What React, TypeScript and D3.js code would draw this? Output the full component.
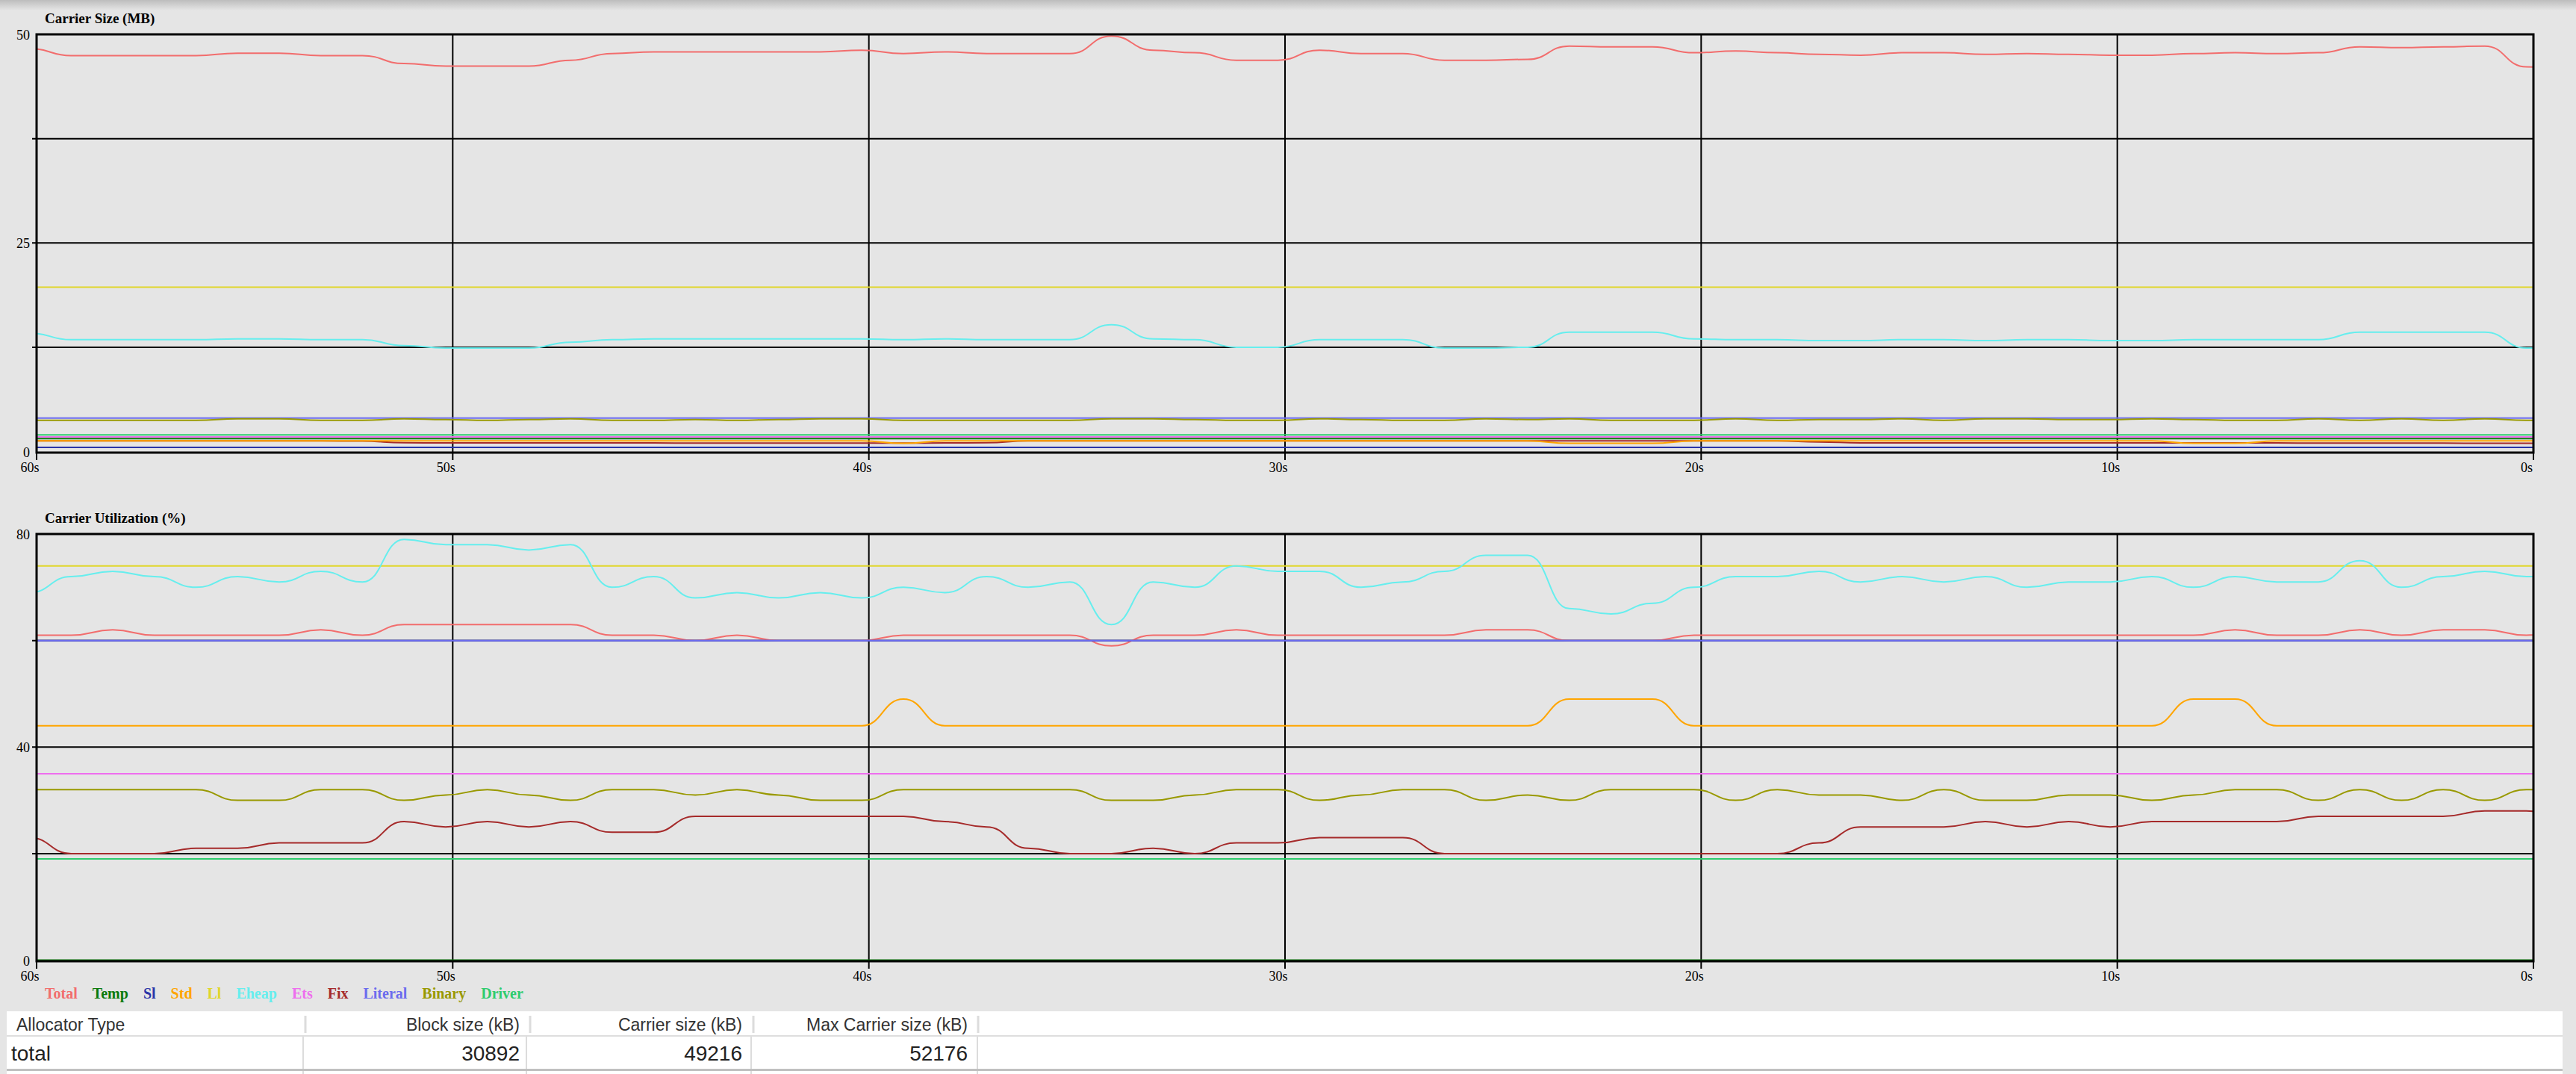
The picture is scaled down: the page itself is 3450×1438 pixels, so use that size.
import React from 'react';
import * as d3 from 'd3';

// ---------- DATA ----------
const seriesNames = ['Total', 'Temp', 'Sl', 'Std', 'Ll', 'Eheap', 'Ets', 'Fix', 'Literal', 'Binary', 'Driver'];
const seriesColors = ['#f26d6d', '#0a7a0a', '#2a35a8', '#ffa500', '#e0d62a', '#66eeee', '#ee6eee', '#a52a2a', '#6b6bee', '#999900', '#2ecc6e'];

// sample times (seconds ago), one per second
const sampleSecondsAgo = [
  60.17, 59.17, 58.17, 57.17, 56.17, 55.17, 54.17, 53.17, 52.17, 51.17,
  50.17, 49.17, 48.17, 47.17, 46.17, 45.17, 44.17, 43.17, 42.17, 41.17,
  40.17, 39.17, 38.17, 37.17, 36.17, 35.17, 34.17, 33.17, 32.17, 31.17,
  30.17, 29.17, 28.17, 27.17, 26.17, 25.17, 24.17, 23.17, 22.17, 21.17,
  20.17, 19.17, 18.17, 17.17, 16.17, 15.17, 14.17, 13.17, 12.17, 11.17,
  10.17, 9.17, 8.17, 7.17, 6.17, 5.17, 4.17, 3.17, 2.17, 1.17,
  0.17, -0.83,
];
const timeTicks = [60, 50, 40, 30, 20, 10, 0];
const timeTickLabels = ['60s', '50s', '40s', '30s', '20s', '10s', '0s'];

// ---- Carrier Size (MB) ----
const sizeTotal = [
  48.3, 47.45, 47.45, 47.45, 47.45, 47.75, 47.75, 47.45, 47.45, 46.5,
  46.2, 46.2, 46.2, 46.9, 47.7, 47.9, 47.9, 47.9, 47.9, 47.9,
  48.1, 47.7, 47.9, 47.7, 47.7, 47.7, 49.8, 48.1, 47.8, 46.9,
  46.9, 48.1, 47.7, 47.7, 46.9, 46.9, 47.0, 48.6, 48.5, 48.5,
  47.8, 48.0, 47.8, 47.6, 47.5, 47.8, 47.8, 47.6, 47.7, 47.6,
  47.5, 47.5, 47.7, 47.8, 47.7, 47.8, 48.5, 48.4, 48.5, 48.6,
  46.1, 45.8,
];
const sizeTemp = [
  1.55, 1.55, 1.55, 1.55, 1.55, 1.55, 1.55, 1.55, 1.55, 1.55,
  1.55, 1.55, 1.55, 1.55, 1.55, 1.55, 1.55, 1.55, 1.55, 1.55,
  1.55, 1.55, 1.55, 1.55, 1.55, 1.55, 1.55, 1.55, 1.55, 1.55,
  1.55, 1.55, 1.55, 1.55, 1.55, 1.55, 1.55, 1.55, 1.55, 1.55,
  1.55, 1.55, 1.55, 1.55, 1.55, 1.55, 1.55, 1.55, 1.55, 1.55,
  1.55, 1.55, 1.55, 1.55, 1.55, 1.55, 1.55, 1.55, 1.55, 1.55,
  1.55, 1.55,
];
const sizeSl = [
  0.5, 0.5, 0.5, 0.5, 0.5, 0.5, 0.5, 0.5, 0.5, 0.5,
  0.5, 0.5, 0.5, 0.5, 0.5, 0.5, 0.5, 0.5, 0.5, 0.5,
  0.5, 0.5, 0.5, 0.5, 0.5, 0.5, 0.5, 0.5, 0.5, 0.5,
  0.5, 0.5, 0.5, 0.5, 0.5, 0.5, 0.5, 0.5, 0.5, 0.5,
  0.5, 0.5, 0.5, 0.5, 0.5, 0.5, 0.5, 0.5, 0.5, 0.5,
  0.5, 0.5, 0.5, 0.5, 0.5, 0.5, 0.5, 0.5, 0.5, 0.5,
  0.5, 0.5,
];
const sizeStd = [
  1.27, 1.27, 1.27, 1.27, 1.27, 1.27, 1.27, 1.27, 1.27, 1.27,
  1.27, 1.27, 1.27, 1.27, 1.27, 1.27, 1.27, 1.27, 1.27, 1.27,
  1.27, 0.98, 1.27, 1.27, 1.27, 1.27, 1.27, 1.27, 1.27, 1.27,
  1.27, 1.27, 1.27, 1.27, 1.27, 1.27, 1.27, 0.98, 0.98, 0.98,
  1.27, 1.27, 1.27, 1.27, 1.27, 1.27, 1.27, 1.27, 1.27, 1.27,
  1.27, 1.27, 0.98, 0.98, 1.27, 1.27, 1.27, 1.27, 1.27, 1.27,
  1.27, 1.27,
];
const sizeLl = [
  19.7, 19.7, 19.7, 19.7, 19.7, 19.7, 19.7, 19.7, 19.7, 19.7,
  19.7, 19.7, 19.7, 19.7, 19.7, 19.7, 19.7, 19.7, 19.7, 19.7,
  19.7, 19.7, 19.7, 19.7, 19.7, 19.7, 19.7, 19.7, 19.7, 19.7,
  19.7, 19.7, 19.7, 19.7, 19.7, 19.7, 19.7, 19.7, 19.7, 19.7,
  19.7, 19.7, 19.7, 19.7, 19.7, 19.7, 19.7, 19.7, 19.7, 19.7,
  19.7, 19.7, 19.7, 19.7, 19.7, 19.7, 19.7, 19.7, 19.7, 19.7,
  19.7, 19.7,
];
const sizeEheap = [
  14.2, 13.4, 13.4, 13.4, 13.4, 13.5, 13.5, 13.4, 13.4, 12.7,
  12.4, 12.4, 12.4, 13.1, 13.4, 13.5, 13.5, 13.5, 13.5, 13.5,
  13.5, 13.4, 13.5, 13.4, 13.4, 13.4, 15.2, 13.5, 13.4, 12.5,
  12.5, 13.4, 13.4, 13.4, 12.4, 12.4, 12.5, 14.3, 14.3, 14.3,
  13.5, 13.4, 13.4, 13.3, 13.3, 13.4, 13.4, 13.3, 13.4, 13.4,
  13.3, 13.3, 13.4, 13.4, 13.4, 13.4, 14.3, 14.3, 14.3, 14.3,
  12.4, 12.2,
];
const sizeEts = [
  1.75, 1.75, 1.75, 1.75, 1.75, 1.75, 1.75, 1.75, 1.75, 1.75,
  1.75, 1.75, 1.75, 1.75, 1.75, 1.75, 1.75, 1.75, 1.75, 1.75,
  1.75, 1.75, 1.75, 1.75, 1.75, 1.75, 1.75, 1.75, 1.75, 1.75,
  1.75, 1.75, 1.75, 1.75, 1.75, 1.75, 1.75, 1.75, 1.75, 1.75,
  1.75, 1.75, 1.75, 1.75, 1.75, 1.75, 1.75, 1.75, 1.75, 1.75,
  1.75, 1.75, 1.75, 1.75, 1.75, 1.75, 1.75, 1.75, 1.75, 1.75,
  1.75, 1.75,
];
const sizeFix = [
  1.27, 1.27, 1.27, 1.27, 1.27, 1.27, 1.27, 1.27, 1.25, 1.05,
  1.02, 1.04, 1.02, 1.04, 1.03, 1.03, 1.0, 1.0, 1.0, 1.0,
  1.0, 1.0, 1.02, 1.05, 1.27, 1.27, 1.27, 1.27, 1.27, 1.27,
  1.27, 1.27, 1.27, 1.27, 1.27, 1.27, 1.27, 1.27, 1.27, 1.27,
  1.27, 1.27, 1.27, 1.15, 1.03, 1.03, 1.03, 1.02, 1.03, 1.02,
  1.03, 1.02, 1.02, 1.02, 1.02, 1.0, 1.0, 1.0, 1.0, 0.98,
  0.98, 1.0,
];
const sizeLiteral = [
  4.0, 4.0, 4.0, 4.0, 4.0, 4.0, 4.0, 4.0, 4.0, 4.0,
  4.0, 4.0, 4.0, 4.0, 4.0, 4.0, 4.0, 4.0, 4.0, 4.0,
  4.0, 4.0, 4.0, 4.0, 4.0, 4.0, 4.0, 4.0, 4.0, 4.0,
  4.0, 4.0, 4.0, 4.0, 4.0, 4.0, 4.0, 4.0, 4.0, 4.0,
  4.0, 4.0, 4.0, 4.0, 4.0, 4.0, 4.0, 4.0, 4.0, 4.0,
  4.0, 4.0, 4.0, 4.0, 4.0, 4.0, 4.0, 4.0, 4.0, 4.0,
  4.0, 4.0,
];
const sizeBinary = [
  3.74, 3.74, 3.74, 3.74, 3.74, 3.92, 3.92, 3.74, 3.74, 3.92,
  3.83, 3.74, 3.83, 3.92, 3.74, 3.74, 3.83, 3.74, 3.83, 3.92,
  3.92, 3.74, 3.74, 3.74, 3.74, 3.74, 3.92, 3.92, 3.83, 3.74,
  3.74, 3.92, 3.83, 3.74, 3.74, 3.92, 3.83, 3.92, 3.74, 3.74,
  3.74, 3.92, 3.74, 3.83, 3.83, 3.92, 3.74, 3.92, 3.92, 3.83,
  3.83, 3.92, 3.83, 3.74, 3.74, 3.92, 3.74, 3.92, 3.74, 3.92,
  3.74, 3.74,
];
const sizeDriver = [
  2.0, 2.0, 2.0, 2.0, 2.0, 2.0, 2.0, 2.0, 2.0, 2.0,
  2.0, 2.0, 2.0, 2.0, 2.0, 2.0, 2.0, 2.0, 2.0, 2.0,
  2.0, 2.0, 2.0, 2.0, 2.0, 2.0, 2.0, 2.0, 2.0, 2.0,
  2.0, 2.0, 2.0, 2.0, 2.0, 2.0, 2.0, 2.0, 2.0, 2.0,
  2.0, 2.0, 2.0, 2.0, 2.0, 2.0, 2.0, 2.0, 2.0, 2.0,
  2.0, 2.0, 2.0, 2.0, 2.0, 2.0, 2.0, 2.0, 2.0, 2.0,
  2.0, 2.0,
];

// ---- Carrier Utilization (%) ----
const utilTotal = [
  61, 61, 62, 61, 61, 61, 61, 62, 61, 63,
  63, 63, 63, 63, 61, 61, 60, 61, 60, 60,
  60, 61, 61, 61, 61, 61, 59, 61, 61, 62,
  61, 61, 61, 61, 61, 62, 62, 60, 60, 60,
  61, 61, 61, 61, 61, 61, 61, 61, 61, 61,
  61, 61, 61, 62, 61, 61, 62, 61, 62, 62,
  61, 62,
];
const utilTemp = [
  0, 0, 0, 0, 0, 0, 0, 0, 0, 0,
  0, 0, 0, 0, 0, 0, 0, 0, 0, 0,
  0, 0, 0, 0, 0, 0, 0, 0, 0, 0,
  0, 0, 0, 0, 0, 0, 0, 0, 0, 0,
  0, 0, 0, 0, 0, 0, 0, 0, 0, 0,
  0, 0, 0, 0, 0, 0, 0, 0, 0, 0,
  0, 0,
];
const utilSl = [
  60, 60, 60, 60, 60, 60, 60, 60, 60, 60,
  60, 60, 60, 60, 60, 60, 60, 60, 60, 60,
  60, 60, 60, 60, 60, 60, 60, 60, 60, 60,
  60, 60, 60, 60, 60, 60, 60, 60, 60, 60,
  60, 60, 60, 60, 60, 60, 60, 60, 60, 60,
  60, 60, 60, 60, 60, 60, 60, 60, 60, 60,
  60, 60,
];
const utilStd = [
  44, 44, 44, 44, 44, 44, 44, 44, 44, 44,
  44, 44, 44, 44, 44, 44, 44, 44, 44, 44,
  44, 49, 44, 44, 44, 44, 44, 44, 44, 44,
  44, 44, 44, 44, 44, 44, 44, 49, 49, 49,
  44, 44, 44, 44, 44, 44, 44, 44, 44, 44,
  44, 44, 49, 49, 44, 44, 44, 44, 44, 44,
  44, 44,
];
const utilLl = [
  74, 74, 74, 74, 74, 74, 74, 74, 74, 74,
  74, 74, 74, 74, 74, 74, 74, 74, 74, 74,
  74, 74, 74, 74, 74, 74, 74, 74, 74, 74,
  74, 74, 74, 74, 74, 74, 74, 74, 74, 74,
  74, 74, 74, 74, 74, 74, 74, 74, 74, 74,
  74, 74, 74, 74, 74, 74, 74, 74, 74, 74,
  74, 74,
];
const utilEheap = [
  69, 72, 73, 72, 70, 72, 71, 73, 71, 79,
  78, 78, 77, 78, 70, 72, 68, 69, 68, 69,
  68, 70, 69, 72, 70, 71, 63, 71, 70, 74,
  73, 73, 70, 71, 73, 76, 76, 66, 65, 67,
  70, 72, 72, 73, 71, 72, 71, 72, 70, 71,
  71, 72, 70, 72, 71, 71, 75, 70, 72, 73,
  72, 73,
];
const utilEts = [
  35, 35, 35, 35, 35, 35, 35, 35, 35, 35,
  35, 35, 35, 35, 35, 35, 35, 35, 35, 35,
  35, 35, 35, 35, 35, 35, 35, 35, 35, 35,
  35, 35, 35, 35, 35, 35, 35, 35, 35, 35,
  35, 35, 35, 35, 35, 35, 35, 35, 35, 35,
  35, 35, 35, 35, 35, 35, 35, 35, 35, 35,
  35, 35,
];
const utilFix = [
  23, 20, 20, 20, 21, 21, 22, 22, 22, 26,
  25, 26, 25, 26, 24, 24, 27, 27, 27, 27,
  27, 27, 26, 25, 21, 20, 20, 21, 20, 22,
  22, 23, 23, 23, 20, 20, 20, 20, 20, 20,
  20, 20, 20, 22, 25, 25, 25, 26, 25, 26,
  25, 26, 26, 26, 26, 27, 27, 27, 27, 28,
  28, 27,
];
const utilLiteral = [
  60, 60, 60, 60, 60, 60, 60, 60, 60, 60,
  60, 60, 60, 60, 60, 60, 60, 60, 60, 60,
  60, 60, 60, 60, 60, 60, 60, 60, 60, 60,
  60, 60, 60, 60, 60, 60, 60, 60, 60, 60,
  60, 60, 60, 60, 60, 60, 60, 60, 60, 60,
  60, 60, 60, 60, 60, 60, 60, 60, 60, 60,
  60, 60,
];
const utilBinary = [
  32, 32, 32, 32, 32, 30, 30, 32, 32, 30,
  31, 32, 31, 30, 32, 32, 31, 32, 31, 30,
  30, 32, 32, 32, 32, 32, 30, 30, 31, 32,
  32, 30, 31, 32, 32, 30, 31, 30, 32, 32,
  32, 30, 32, 31, 31, 30, 32, 30, 30, 31,
  31, 30, 31, 32, 32, 30, 32, 30, 32, 30,
  32, 32,
];
const utilDriver = [
  19, 19, 19, 19, 19, 19, 19, 19, 19, 19,
  19, 19, 19, 19, 19, 19, 19, 19, 19, 19,
  19, 19, 19, 19, 19, 19, 19, 19, 19, 19,
  19, 19, 19, 19, 19, 19, 19, 19, 19, 19,
  19, 19, 19, 19, 19, 19, 19, 19, 19, 19,
  19, 19, 19, 19, 19, 19, 19, 19, 19, 19,
  19, 19,
];

const sizeTicksGrid = [0, 12.5, 25, 37.5, 50];
const sizeTickLabels = [0, 25, 50];
const utilTicksGrid = [0, 20, 40, 60, 80];
const utilTickLabels = [0, 40, 80];

const tableHeaders = ['Allocator Type', 'Block size (kB)', 'Carrier size (kB)', 'Max Carrier size (kB)'];
const tableRowLabel = 'total';
const tableRowValues = [30892, 49216, 52176];

// ---------- LAYOUT ----------
const W = 3450;
const H = 1438;
const X0 = 49;
const X1 = 3393;
const SERIF = "'Liberation Serif', 'Times New Roman', Times, serif";
const SANS = "'Liberation Sans', Arial, Helvetica, sans-serif";
// draw order (Fix beneath Std)
const drawOrder = [0, 1, 2, 7, 3, 4, 5, 6, 8, 9, 10];

const xScale = d3.scaleLinear().domain([60, 0]).range([X0, X1]);

type ChartProps = {
  id: string;
  title: string;
  top: number;
  bottom: number;
  max: number;
  grid: number[];
  labels: number[];
  data: number[][];
};

function Chart({ id, title, top, bottom, max, grid, labels, data }: ChartProps) {
  const y = d3.scaleLinear().domain([0, max]).range([bottom - 1.5, top]);
  const line = d3
    .line<number>()
    .x((_, i) => xScale(sampleSecondsAgo[i]))
    .y((v) => y(v))
    .curve(d3.curveBumpX);
  return (
    <g>
      <defs>
        <clipPath id={id}>
          <rect x={X0} y={top} width={X1 - X0} height={bottom - top} />
        </clipPath>
      </defs>
      <text x={60} y={top - 15} fontFamily={SERIF} fontWeight="bold" fontSize={19} fill="#000">
        {title}
      </text>
      {grid
        .filter((v) => v > 0 && v < max)
        .map((v) => (
          <line key={'h' + v} x1={X0 - 6} x2={X1} y1={y(v)} y2={y(v)} stroke="#000" strokeWidth={2} />
        ))}
      {timeTicks.map((t) => (
        <line key={'v' + t} x1={xScale(t)} x2={xScale(t)} y1={top} y2={bottom + 10} stroke="#000" strokeWidth={2} />
      ))}
      <g clipPath={`url(#${id})`}>
        {drawOrder.map((si) => (
          <path
            key={seriesNames[si]}
            d={line(data[si]) || ''}
            fill="none"
            stroke={seriesColors[si]}
            strokeWidth={2}
          />
        ))}
      </g>
      <rect x={X0} y={top} width={X1 - X0} height={bottom - top} fill="none" stroke="#000" strokeWidth={3} />
      {labels.map((v) => (
        <text key={'yl' + v} x={40} y={y(v) + 7} textAnchor="end" fontFamily={SERIF} fontSize={18} fill="#000">
          {v}
        </text>
      ))}
      {timeTicks.map((t, i) => (
        <text
          key={'xl' + t}
          x={xScale(t) - 9}
          y={bottom + 26}
          textAnchor="middle"
          fontFamily={SERIF}
          fontSize={18}
          fill="#000"
        >
          {timeTickLabels[i]}
        </text>
      ))}
    </g>
  );
}

export default function App() {
  const sizeData = [sizeTotal, sizeTemp, sizeSl, sizeStd, sizeLl, sizeEheap, sizeEts, sizeFix, sizeLiteral, sizeBinary, sizeDriver];
  const utilData = [utilTotal, utilTemp, utilSl, utilStd, utilLl, utilEheap, utilEts, utilFix, utilLiteral, utilBinary, utilDriver];

  const headerSeps = [409, 710, 1009, 1310];
  const rowSeps = [406, 705, 1006, 1309];
  const rightEdges = [696, 994, 1296];

  return (
    <svg
      width={W}
      height={H}
      viewBox={`0 0 ${W} ${H}`}
      style={{ position: 'fixed', left: 0, top: 0, display: 'block' }}
    >
      <defs>
        <linearGradient id="topShade" x1="0" y1="0" x2="0" y2="1">
          <stop offset="0" stopColor="#bdbdbd" />
          <stop offset="1" stopColor="#e5e5e5" />
        </linearGradient>
      </defs>
      <rect x={0} y={0} width={W} height={H} fill="#e5e5e5" />
      <rect x={0} y={0} width={W} height={14} fill="url(#topShade)" />

      <Chart
        id="clipSize"
        title="Carrier Size (MB)"
        top={46}
        bottom={606}
        max={50}
        grid={sizeTicksGrid}
        labels={sizeTickLabels}
        data={sizeData}
      />
      <Chart
        id="clipUtil"
        title="Carrier Utilization (%)"
        top={715}
        bottom={1287}
        max={80}
        grid={utilTicksGrid}
        labels={utilTickLabels}
        data={utilData}
      />

      {/* legend */}
      <text x={60} y={1337} fontFamily={SERIF} fontWeight="bold" fontSize={20}>
        {seriesNames.map((n, i) => (
          <tspan key={n} dx={i === 0 ? 0 : 20} fill={seriesColors[i]}>
            {n}
          </tspan>
        ))}
      </text>

      {/* table */}
      <rect x={9} y={1354} width={3423} height={84} fill="#ffffff" />
      {headerSeps.map((x) => (
        <rect key={'hs' + x} x={x - 1.5} y={1360} width={3} height={23} fill="#dcdcdc" />
      ))}
      <rect x={9} y={1386} width={3423} height={2} fill="#dedede" />
      {rowSeps.map((x) => (
        <line key={'rs' + x} x1={x} x2={x} y1={1388} y2={1438} stroke="#c4c4c4" strokeWidth={1.2} />
      ))}
      <rect x={9} y={1431} width={3423} height={3} fill="#c0c0c0" />
      <text x={22} y={1380} fontFamily={SANS} fontSize={23} fill="#333">
        {tableHeaders[0]}
      </text>
      {tableHeaders.slice(1).map((h, i) => (
        <text key={h} x={rightEdges[i]} y={1380} textAnchor="end" fontFamily={SANS} fontSize={23} fill="#333">
          {h}
        </text>
      ))}
      <text x={15} y={1420} fontFamily={SANS} fontSize={28} fill="#222">
        {tableRowLabel}
      </text>
      {tableRowValues.map((v, i) => (
        <text key={'v' + i} x={rightEdges[i]} y={1420} textAnchor="end" fontFamily={SANS} fontSize={28} fill="#222">
          {v}
        </text>
      ))}
    </svg>
  );
}
